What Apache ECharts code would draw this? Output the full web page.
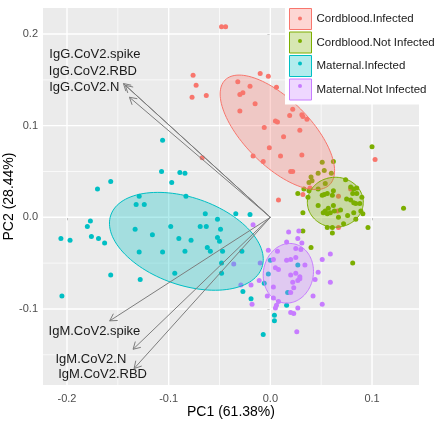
<!DOCTYPE html>
<html><head><meta charset="utf-8">
<script src="https://cdn.jsdelivr.net/npm/echarts@6/dist/echarts.min.js"></script>
<style>html,body{margin:0;padding:0;background:#fff}#c{width:440px;height:424px}</style>
</head><body><div id="c"></div>
<script>
// ---------------- data ----------------
const groups = ['Cordblood.Infected', 'Cordblood.Not Infected', 'Maternal.Infected', 'Maternal.Not Infected'];

const cordInfPC1 = [-0.048,-0.044,-0.063,-0.076,-0.073,-0.077,-0.010,-0.002,-0.032,-0.020,-0.027,-0.030,0.006,-0.015,-0.030,0.022,0.019,0.031,0.032,0.036,0.005,0.007,-0.006,0.029,0.013,-0.001,-0.017,0.010,0.031,-0.007,-0.067,0.020,0.022,0.103,0.008,0.032,0.039,0.067,0.079,0.066,0.067];
const cordInfPC2 = [0.208,0.208,0.133,0.155,0.144,0.131,0.157,0.154,0.148,0.143,0.136,0.134,0.142,0.124,0.116,0.118,0.111,0.112,0.110,0.107,0.105,0.104,0.098,0.095,0.088,0.076,0.067,0.067,0.068,0.061,0.065,0.050,0.050,0.063,0.019,0.025,0.032,0.023,0.031,0.007,-0.011];

const cordNotPC1 = [0.100,0.051,0.062,0.047,0.060,0.053,0.040,0.041,0.038,0.054,0.074,0.027,0.033,0.038,0.047,0.051,0.053,0.056,0.062,0.061,0.079,0.082,0.085,0.081,0.085,0.090,0.088,0.089,0.091,0.075,0.079,0.082,0.084,0.047,0.062,0.057,0.054,0.052,0.056,0.059,0.063,0.032,0.069,0.082,0.076,0.084,0.067,0.096,0.056,0.061,0.072,0.061,0.131,0.040,0.032,0.081,0.037];
const cordNotPC2 = [0.077,0.060,0.061,0.048,0.048,0.051,0.044,0.040,0.038,0.037,0.041,0.026,0.031,0.029,0.031,0.024,0.025,0.026,0.029,0.024,0.033,0.031,0.032,0.026,0.026,0.022,0.015,0.007,0.004,0.020,0.019,0.016,0.015,0.013,0.013,0.010,0.007,0.005,0.004,0.005,0.007,0.005,0.008,0.005,0.002,-0.002,0.000,-0.011,-0.011,-0.011,-0.007,-0.017,0.010,-0.033,-0.015,-0.050,0.022];

const matInfPC1 = [-0.106,-0.107,-0.089,-0.084,-0.097,-0.170,-0.157,-0.129,-0.083,-0.132,-0.124,-0.177,-0.180,-0.176,-0.169,-0.163,-0.206,-0.197,-0.133,-0.116,-0.129,-0.157,-0.128,-0.205,-0.098,-0.090,-0.106,-0.084,-0.078,-0.069,-0.063,-0.094,-0.064,-0.052,-0.052,-0.050,-0.062,-0.059,-0.049,-0.034,-0.020,-0.047,-0.028,-0.048,-0.048,-0.027,-0.019,0.000,-0.002,-0.006,0.017,0.027,0.016,0.004,0.004,-0.007];
const matInfPC2 = [0.084,0.050,0.049,0.048,0.038,0.031,0.039,0.023,0.023,0.014,0.014,-0.004,-0.010,-0.021,-0.023,-0.028,-0.023,-0.025,-0.013,-0.019,-0.038,-0.063,-0.068,-0.086,-0.010,-0.023,-0.038,-0.037,-0.025,-0.010,-0.010,-0.061,0.004,-0.002,-0.022,-0.026,-0.033,-0.037,-0.013,0.004,0.003,-0.037,-0.037,-0.050,-0.061,-0.081,-0.089,-0.047,-0.062,-0.072,-0.082,-0.052,-0.096,-0.107,-0.113,-0.128];

const matNotPC1 = [-0.017,0.018,0.028,0.027,0.031,0.016,0.025,0.030,0.007,-0.002,0.016,0.020,0.025,0.034,0.003,0.005,0.008,-0.010,-0.036,-0.011,0.003,-0.003,0.020,0.025,0.029,0.022,0.027,0.029,0.023,0.020,0.003,0.008,0.006,0.005,0.027,0.020,0.023,0.026,0.047,0.044,0.042,0.051,0.051,0.059,0.059,-0.019,-0.018,-0.029];
const matNotPC2 = [-0.008,-0.016,-0.015,-0.023,-0.028,-0.027,-0.034,-0.035,-0.037,-0.036,-0.047,-0.046,-0.044,-0.052,-0.046,-0.055,-0.057,-0.050,-0.051,-0.069,-0.076,-0.086,-0.063,-0.061,-0.065,-0.071,-0.069,-0.067,-0.077,-0.082,-0.088,-0.092,-0.096,-0.099,-0.099,-0.104,-0.105,-0.125,-0.060,-0.068,-0.086,-0.095,-0.046,-0.040,-0.071,-0.074,-0.095,-0.074];

// group ellipses: centre and the two semi-axis vectors, in PC units
const ellipseCenterPC1 = [0.0069, 0.0639, -0.0826, 0.0177];
const ellipseCenterPC2 = [0.0927, 0.0164, -0.0262, -0.0611];
const ellipseAxis1PC1  = [0.0514, 0.0275, 0.0743, 0.0051];
const ellipseAxis1PC2  = [-0.0571, 0.0000, -0.0286, 0.0322];
const ellipseAxis2PC1  = [-0.0229, 0.0000, -0.0141, 0.0242];
const ellipseAxis2PC2  = [-0.0254, 0.0273, -0.0451, -0.0047];

// variable loadings (arrows)
const varNames = ['IgG.CoV2.spike', 'IgG.CoV2.RBD', 'IgG.CoV2.N', 'IgM.CoV2.spike', 'IgM.CoV2.N', 'IgM.CoV2.RBD'];
const varPC1 = [-0.1445, -0.1426, -0.1386, -0.158, -0.135, -0.134];
const varPC2 = [0.146, 0.144, 0.131, -0.113, -0.144, -0.165];
const varLabelPC1 = [-0.1726, -0.1745, -0.183, -0.173, -0.1765, -0.165];
const varLabelPC2 = [0.178, 0.159, 0.142, -0.124, -0.155, -0.172];

// axes
const xTicks = [-0.2, -0.1, 0.0, 0.1];
const yTicks = [-0.1, 0.0, 0.1, 0.2];
const xMinor = [-0.15, -0.05, 0.05];
const yMinor = [-0.15, -0.05, 0.05, 0.15];
const xRange = [-0.2236, 0.1462];
const yRange = [-0.183, 0.2284];
const xTitle = 'PC1 (61.38%)';
const yTitle = 'PC2 (28.44%)';

// ---------------- style ----------------
const FONT = '"Liberation Sans", Arial, sans-serif';
const colors = ['#F8766D', '#7CAE00', '#00BFC4', '#C77CFF'];
const fills = ['rgba(248,118,109,0.3)', 'rgba(124,174,0,0.3)', 'rgba(0,191,196,0.3)', 'rgba(199,124,255,0.3)'];
const ARROW = '#7d7d7d';
const DOT_ICON = 'path://M0,0L0.01,0M22,21L21.99,21M9,10.5a2,2 0 1,0 4,0a2,2 0 1,0 -4,0Z';

const pc1Sets = [cordInfPC1, cordNotPC1, matInfPC1, matNotPC1];
const pc2Sets = [cordInfPC2, cordNotPC2, matInfPC2, matNotPC2];

const chart = echarts.init(document.getElementById('c'), null, {renderer: 'canvas'});

const series = [];

// panel grid lines (ggplot style), drawn through the axes' scales
function gridLineSeries(values, vertical, width) {
  return {
    type: 'custom', silent: true, z: 1, clip: true,
    encode: vertical ? {x: 0} : {y: 0},
    data: values.map(v => [v]),
    renderItem: function (params, api) {
      const v = api.value(0);
      const a = vertical ? api.coord([v, yRange[0]]) : api.coord([xRange[0], v]);
      const b = vertical ? api.coord([v, yRange[1]]) : api.coord([xRange[1], v]);
      return {type: 'line', shape: {x1: a[0], y1: a[1], x2: b[0], y2: b[1]}, style: {stroke: '#fff', lineWidth: width}};
    }
  };
}
series.push(gridLineSeries(xMinor, true, 0.7));
series.push(gridLineSeries(yMinor, false, 0.7));
series.push(gridLineSeries(xTicks, true, 1.4));
series.push(gridLineSeries(yTicks, false, 1.4));

groups.forEach((g, i) => {
  series.push({
    type: 'scatter', name: g, z: 2,
    symbolSize: 5,
    itemStyle: {color: colors[i], opacity: 1},
    data: pc1Sets[i].map((x, k) => [x, pc2Sets[i][k]])
  });
});
groups.forEach((g, i) => {
  series.push({
    type: 'custom', name: g, z: 3, clip: true,
    encode: {x: 0, y: 1},
    data: [[ellipseCenterPC1[i], ellipseCenterPC2[i], ellipseAxis1PC1[i], ellipseAxis1PC2[i], ellipseAxis2PC1[i], ellipseAxis2PC2[i]]],
    renderItem: function (params, api) {
      const cx = api.value(0), cy = api.value(1);
      const ux = api.value(2), uy = api.value(3), vx = api.value(4), vy = api.value(5);
      const pts = [];
      for (let k = 0; k < 120; k++) {
        const t = 2 * Math.PI * k / 120;
        pts.push(api.coord([cx + ux * Math.cos(t) + vx * Math.sin(t), cy + uy * Math.cos(t) + vy * Math.sin(t)]));
      }
      return {type: 'polygon', shape: {points: pts}, style: {fill: fills[i], stroke: colors[i], lineWidth: 1}};
    }
  });
});
series.push({
  type: 'custom', name: 'variables', z: 4, clip: false,
  encode: {x: 0, y: 1},
  data: varPC1.map((x, k) => [x, varPC2[k]]),
  renderItem: function (params, api) {
    const p0 = api.coord([0, 0]);
    const p1 = api.coord([api.value(0), api.value(1)]);
    const ang = Math.atan2(p1[1] - p0[1], p1[0] - p0[0]);
    const L = 8, a = Math.PI / 6;
    const h1 = [p1[0] - L * Math.cos(ang - a), p1[1] - L * Math.sin(ang - a)];
    const h2 = [p1[0] - L * Math.cos(ang + a), p1[1] - L * Math.sin(ang + a)];
    return {type: 'group', children: [
      {type: 'line', shape: {x1: p0[0], y1: p0[1], x2: p1[0], y2: p1[1]}, style: {stroke: ARROW, lineWidth: 1}},
      {type: 'polyline', shape: {points: [h1, p1, h2]}, style: {stroke: ARROW, lineWidth: 1, fill: null}}
    ]};
  }
});
series.push({
  type: 'custom', name: 'varLabels', z: 5, clip: false,
  encode: {x: 0, y: 1},
  data: varLabelPC1.map((x, k) => [x, varLabelPC2[k], k]),
  renderItem: function (params, api) {
    const p = api.coord([api.value(0), api.value(1)]);
    return {type: 'text', x: p[0], y: p[1], style: {
      text: varNames[api.value(2)], fill: '#1a1a1a', font: '13px ' + FONT,
      align: 'center', verticalAlign: 'middle', textAlign: 'center', textVerticalAlign: 'middle'
    }};
  }
});

const legendBase = {
  orient: 'vertical', left: 285, top: 0, padding: [8, 6, 4, 4],
  itemWidth: 22, itemHeight: 21, itemGap: 1.5, selectedMode: false,
  textStyle: {fontSize: 11.5, fontFamily: FONT, color: '#1a1a1a'}
};

const axisNameStyle = {fontSize: 14, color: '#000', fontFamily: FONT};
const tickLabel = {color: '#4D4D4D', fontSize: 11, fontFamily: FONT};

chart.setOption({
  animation: false,
  backgroundColor: '#fff',
  grid: {left: 43, right: 21, top: 8, bottom: 39, containLabel: false, outerBoundsMode: 'none',
         show: true, backgroundColor: '#EBEBEB', borderWidth: 0},
  legend: [
    Object.assign({}, legendBase, {
      backgroundColor: '#fff',
      data: groups.map((g, i) => ({name: g, icon: 'rect', itemStyle: {color: fills[i], borderColor: colors[i], borderWidth: 1}}))
    }),
    Object.assign({}, legendBase, {
      textStyle: Object.assign({}, legendBase.textStyle, {color: 'rgba(0,0,0,0)'}),
      data: groups.map((g, i) => ({name: g, icon: DOT_ICON, itemStyle: {color: colors[i], borderWidth: 0}}))
    })
  ],
  xAxis: {type: 'value', min: xRange[0], max: xRange[1], splitNumber: 4,
     name: xTitle, nameLocation: 'middle', nameGap: 20, nameMoveOverlap: false, nameTextStyle: axisNameStyle,
     axisLine: {show: false},
     axisTick: {show: true, length: 3, lineStyle: {color: '#333'}, customValues: xTicks},
     axisLabel: Object.assign({customValues: xTicks, margin: 8, formatter: v => v.toFixed(1)}, tickLabel),
     splitLine: {show: false}},
  yAxis: {type: 'value', min: yRange[0], max: yRange[1], splitNumber: 4,
     name: yTitle, nameLocation: 'middle', nameGap: 27, nameMoveOverlap: false, nameTextStyle: axisNameStyle,
     axisLine: {show: false},
     axisTick: {show: true, length: 3, lineStyle: {color: '#333'}, customValues: yTicks},
     axisLabel: Object.assign({customValues: yTicks, margin: 5, formatter: v => v.toFixed(1)}, tickLabel),
     splitLine: {show: false}},
  series: series
});
</script>
</body></html>
